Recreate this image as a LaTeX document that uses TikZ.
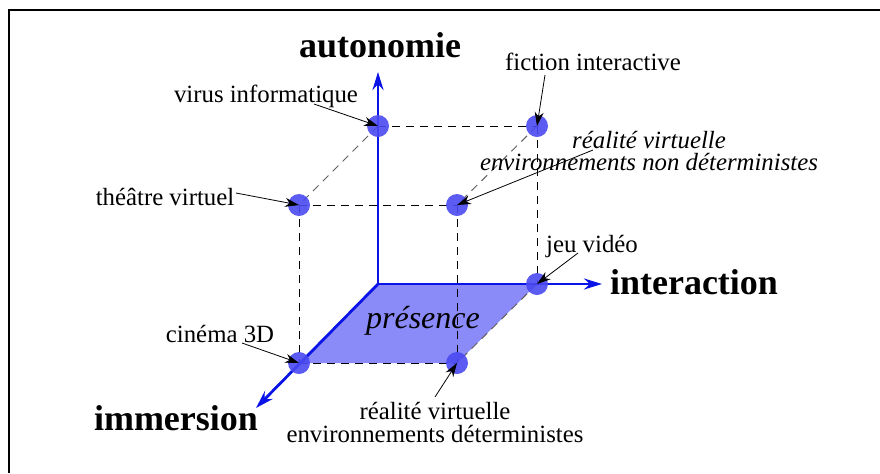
\documentclass[tikz,border=0pt]{standalone}
\usepackage{fontspec}
\setmainfont{Liberation Serif}
\usetikzlibrary{arrows.meta,positioning,calc}
\definecolor{axisblue}{HTML}{0A14E6}
\definecolor{dotblue}{HTML}{4A4AF2}
\definecolor{presfill}{HTML}{8A8AF8}
\definecolor{gridgrey}{HTML}{606060}
\tikzset{
  lbl/.style={font=\fontsize{12.4}{11}\selectfont,inner sep=0pt,align=center},
  axislbl/.style={font=\fontsize{18}{20}\selectfont\bfseries,inner sep=0pt},
  dot/.style={circle,minimum size=11pt,inner sep=0pt},
  axis/.style={-{Stealth[length=9pt,width=5.5pt]},line width=1.4pt,draw=axisblue},
  edge/.style={dash pattern=on 4pt off 3pt,line width=0.5pt},
  backedge/.style={edge,draw=gridgrey},
  pointer/.style={-{Stealth[length=7pt,width=4.5pt]},line width=0.4pt},
}

\begin{document}
\begin{tikzpicture}[x=0.5pt,y=-0.5pt]
  \useasboundingbox (0,0) rectangle (880,473);
  % frame (only its top and left sides fall inside the page)
  \draw[line width=1pt] (9,473) -- (9,10) -- (880,10);

  % axes origin and cube corners
  \coordinate (O) at (378,284);
  \node[dot] (virus)   at (378,126) {};
  \node[dot] (fiction) at (537,126) {};
  \node[dot] (theatre) at (299,205) {};
  \node[dot] (vrnd)    at (457,205) {};
  \node[dot] (jeu)     at (537,284) {};
  \node[dot] (cinema)  at (299,363) {};
  \node[dot] (vrd)     at (457,363) {};

  % presence plane
  \fill[presfill] (O) -- (jeu.center) -- (vrd.center) -- (cinema.center) -- cycle;

  % cube edges
  \draw[edge] (virus.center) -- (fiction.center);
  \draw[edge] (theatre.center) -- (vrnd.center);
  \draw[edge] (cinema.center) -- (vrd.center);
  \draw[edge] (theatre.center) -- (cinema.center);
  \draw[edge] (vrnd.center) -- (vrd.center);
  \draw[edge] (fiction.center) -- (jeu.center);
  \draw[backedge] (virus.center) -- (theatre.center);
  \draw[backedge] (fiction.center) -- (vrnd.center);
  \draw[backedge] (jeu.center) -- (vrd.center);

  % axes
  \coordinate (autotip)  at (378,72);
  \coordinate (intertip) at (602,284);
  \coordinate (immertip) at (256,408);
  \draw[axis] (O) -- (autotip);
  \draw[axis] (O) -- (intertip);
  \draw[axis] (O) -- (immertip);

  % dots above the axes
  \foreach \p in {virus,fiction,theatre,vrnd,jeu,cinema,vrd}
    \fill[dotblue,opacity=0.9] (\p.center) circle (5.5pt);

  % axis labels
  \node[axislbl,anchor=base] (autolbl)  at (380,57)  {autonomie};
  \node[axislbl,anchor=base] (interlbl) at (694,294) {interaction};
  \node[axislbl,anchor=base] (immerlbl) at (176,430) {immersion};
  \node[lbl,anchor=base,font=\fontsize{16}{18}\selectfont\itshape] (preslbl) at (423,328) {présence};

  % point labels
  \node[lbl,anchor=base] (viruslbl)   at (266,102) {virus informatique};
  \node[lbl,anchor=base] (fictionlbl) at (593,70)  {fiction interactive};
  \node[lbl,anchor=base] (theatrelbl) at (165,205) {théâtre virtuel};
  \node[lbl,anchor=base] (jeulbl)     at (592,252) {jeu vidéo};
  \node[lbl,anchor=base] (cinemalbl)  at (220,342) {cinéma 3D};
  \node[lbl,anchor=base,font=\fontsize{12.4}{11}\selectfont\itshape] (vrndlbl) at (649,170)
    {réalité virtuelle\\environnements non déterministes};
  \node[lbl,anchor=base,font=\fontsize{12.4}{11.5}\selectfont] (vrdlbl) at (435,442)
    {réalité virtuelle\\environnements déterministes};

  % pointers
  \coordinate (virusfrom)   at (314,104);
  \coordinate (fictionfrom) at (545,75);
  \coordinate (theatrefrom) at (236,193);
  \coordinate (jeufrom)     at (578,253);
  \coordinate (cinemafrom)  at (242,343);
  \coordinate (vrndfrom)    at (593,150);
  \coordinate (vrdfrom)     at (435,397);
  \draw[pointer] (virusfrom) -- (virus.center);
  \draw[pointer] (fictionfrom) -- (fiction.center);
  \draw[pointer] (theatrefrom) -- (theatre.center);
  \draw[pointer] (jeufrom) -- (jeu.center);
  \draw[pointer] (cinemafrom) -- (cinema.center);
  \draw[pointer] (vrndfrom) -- (vrnd.center);
  \draw[pointer] (vrdfrom) -- (vrd.center);
\end{tikzpicture}
\end{document}
